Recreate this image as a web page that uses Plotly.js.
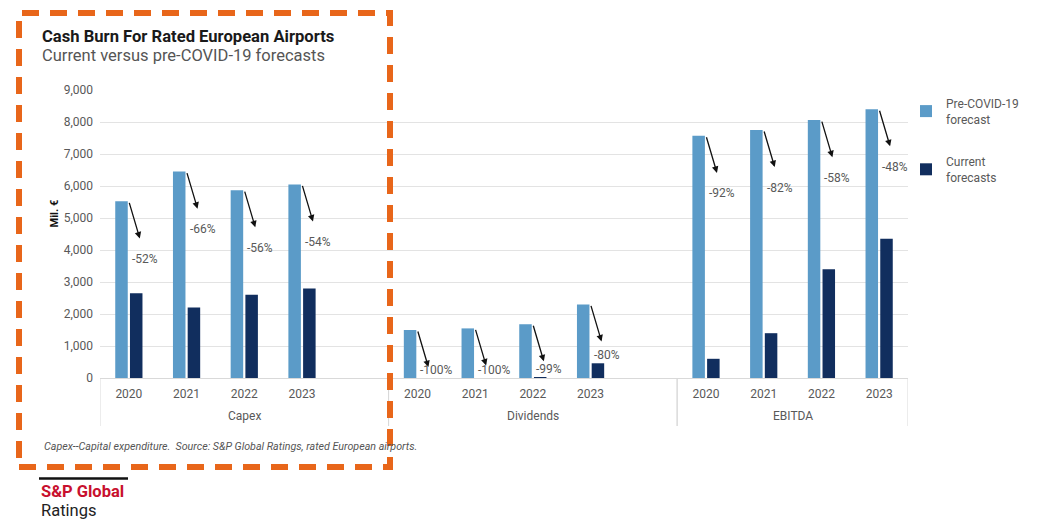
<!DOCTYPE html>
<html><head><meta charset="utf-8">
<script src="https://cdn.plot.ly/plotly-3.0.1.min.js"></script>
<style>html,body{margin:0;padding:0;background:#fff}#chart{width:1039px;height:520px}</style>
</head><body><div id="chart"></div>
<script>
// ---- data ----
const years = ['2020', '2021', '2022', '2023'];
const groupNames = ['Capex', 'Dividends', 'EBITDA'];
const capexPre = [5520, 6450, 5870, 6050];
const capexCur = [2650, 2200, 2600, 2800];
const capexPct = ['-52%', '-66%', '-56%', '-54%'];
const dividendsPre = [1500, 1550, 1680, 2300];
const dividendsCur = [0, 0, 17, 460];
const dividendsPct = ['-100%', '-100%', '-99%', '-80%'];
const ebitdaPre = [7570, 7750, 8060, 8400];
const ebitdaCur = [600, 1400, 3400, 4350];
const ebitdaPct = ['-92%', '-82%', '-58%', '-48%'];
const yTicks = [0, 1000, 2000, 3000, 4000, 5000, 6000, 7000, 8000, 9000];
const seriesNames = ['Pre-COVID-19<br>forecast', 'Current<br>forecasts'];

// ---- slots: 4 years per group, one empty slot after Capex and Dividends ----
const blocks = [
  {name: groupNames[0], pre: capexPre, cur: capexCur, pct: capexPct, spacer: true},
  {name: groupNames[1], pre: dividendsPre, cur: dividendsCur, pct: dividendsPct, spacer: true},
  {name: groupNames[2], pre: ebitdaPre, cur: ebitdaCur, pct: ebitdaPct, spacer: false}
];
const P = (px) => (px - 100) / 808;      // pixel x -> paper x (decorations only)
const Q = (py) => (378 - py) / 288;      // pixel y -> paper y (decorations only)
const gray = '#595959';
const divColor = '#D9D9D9';

const xPos = [], tickText = [], yPre = [], yCur = [], anns = [], shapes = [];
let slot = 0;
blocks.forEach(b => {
  const start = slot;
  years.forEach((yr, i) => {
    const idx = slot++;
    xPos.push(idx); tickText.push(yr); yPre.push(b.pre[i]); yCur.push(b.cur[i]);
    // arrow from top of the pre-COVID bar
    anns.push({x: idx + 0.19, y: b.pre[i] - 1160, xref: 'x', yref: 'y',
      ax: idx, ay: b.pre[i], axref: 'x', ayref: 'y', text: '', showarrow: true,
      arrowhead: 2, arrowsize: 1, arrowwidth: 1.3, arrowcolor: '#111', standoff: 0});
    // percentage label
    anns.push({x: idx, y: Math.max(b.pre[i] - 1800, b.cur[i] + 250), xref: 'x', yref: 'y',
      text: b.pct[i], showarrow: false, xanchor: 'left', yanchor: 'middle', xshift: 1,
      font: {size: 12, color: gray}});
  });
  if (b.spacer) slot++;
  const end = slot - 1;
  // group label under the years
  anns.push({x: (start + end) / 2, y: Q(416), xref: 'x', yref: 'paper', text: b.name,
    showarrow: false, xanchor: 'center', yanchor: 'middle', font: {size: 12, color: gray}});
  // group dividers
  [start - 0.5, end + 0.5].forEach(v => shapes.push({type: 'line', xref: 'x', yref: 'paper',
    x0: v, x1: v, y0: 0, y1: Q(426), line: {color: divColor, width: 1}}));
});

anns.push(
  {xref: 'paper', yref: 'paper', x: P(40), y: Q(36), xanchor: 'left', yanchor: 'middle', showarrow: false,
   text: '<b>Cash Burn For Rated European Airports</b>', font: {family: 'Roboto, sans-serif', size: 16.6, color: '#1a1a1a'}},
  {xref: 'paper', yref: 'paper', x: P(40), y: Q(56), xanchor: 'left', yanchor: 'middle', showarrow: false,
   text: 'Current versus pre-COVID-19 forecasts', font: {family: 'Roboto, sans-serif', size: 16.5, color: '#555'}},
  {xref: 'paper', yref: 'paper', x: P(53.5), y: Q(214), xanchor: 'center', yanchor: 'middle', showarrow: false,
   textangle: -90, text: '<b>Mil. €</b>', font: {size: 11, color: '#111'}},
  {xref: 'paper', yref: 'paper', x: P(42), y: Q(446), xanchor: 'left', yanchor: 'middle', showarrow: false,
   text: '<i>Capex--Capital expenditure.  Source: S&P Global Ratings, rated European airports.</i>', font: {size: 10.7, color: '#555'}},
  {xref: 'paper', yref: 'paper', x: P(39), y: Q(491), xanchor: 'left', yanchor: 'middle', showarrow: false,
   text: '<b>S&P Global</b>', font: {family: 'Roboto, sans-serif', size: 16.5, color: '#C8102E'}},
  {xref: 'paper', yref: 'paper', x: P(39), y: Q(510), xanchor: 'left', yanchor: 'middle', showarrow: false,
   text: 'Ratings', font: {family: 'Roboto, sans-serif', size: 16.5, color: '#222'}}
);

shapes.push(
  {type: 'rect', xref: 'paper', yref: 'paper', x0: P(19), x1: P(390), y0: Q(467), y1: Q(13),
   line: {color: '#E8661A', width: 6, dash: '17px,11px'}, fillcolor: 'rgba(0,0,0,0)'},
  {type: 'line', xref: 'paper', yref: 'paper', x0: P(39), x1: P(128), y0: Q(478.5), y1: Q(478.5),
   line: {color: '#111', width: 2.5}}
);

const traces = [
  {type: 'bar', name: seriesNames[0], x: xPos, y: yPre, marker: {color: '#5B9BC8'}, legendgroup: 'a', hoverinfo: 'y'},
  {type: 'bar', name: seriesNames[1], x: xPos, y: yCur, marker: {color: '#112E5E'}, legendgroup: 'b', hoverinfo: 'y'}
];

const layout = {
  width: 1039, height: 520,
  margin: {l: 100, r: 131, t: 90, b: 142},
  paper_bgcolor: '#fff', plot_bgcolor: '#fff',
  font: {family: 'Roboto, sans-serif', color: gray, size: 12},
  barmode: 'group', bargap: 0.49, bargroupgap: 0.15,
  xaxis: {type: 'linear', range: [-0.5, slot - 0.5], tickvals: xPos, ticktext: tickText,
    showgrid: false, zeroline: false, showline: true, linecolor: divColor, linewidth: 1,
    ticks: '', ticklabelstandoff: 5, tickfont: {size: 12, color: gray}},
  yaxis: {range: [0, 9000], tickvals: yTicks, tickformat: ',', gridcolor: '#E3E3E3', zeroline: false,
    showline: false, ticks: '', ticklabelstandoff: 6, tickfont: {size: 12, color: gray}},
  legend: {x: P(906), y: Q(89), xanchor: 'left', yanchor: 'top', font: {size: 12, color: gray},
    traceorder: 'grouped', tracegroupgap: 24, bgcolor: 'rgba(0,0,0,0)'},
  annotations: anns,
  shapes: shapes
};

Plotly.newPlot('chart', traces, layout, {displayModeBar: false, responsive: false});
</script>
</body></html>
